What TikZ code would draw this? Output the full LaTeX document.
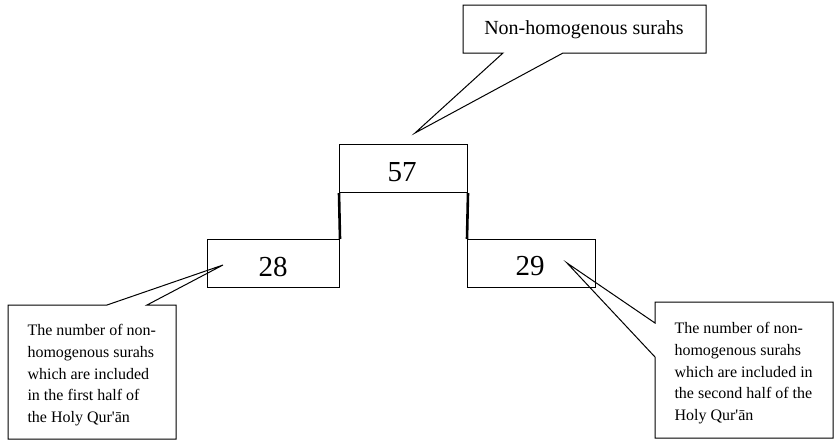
\documentclass[tikz,border=0pt]{standalone}
\usepackage{fontspec}
\setmainfont{Liberation Serif}
\begin{document}
\begin{tikzpicture}[x=1pt,y=-1pt,line width=1pt,
  callout/.style={draw,fill=white,line width=1pt,line join=miter},
  numbox/.style={draw,line width=1pt,anchor=north west,inner sep=0pt},
  num/.style={font=\fontsize{29}{34}\selectfont,inner sep=0pt},
  lab/.style={font=\fontsize{20}{24}\selectfont,inner sep=0pt},
  note/.style={font=\fontsize{16}{21.7}\selectfont,align=left,anchor=north west,inner sep=0pt},
  riser/.style={line width=2.6pt}]
\useasboundingbox (0,0) rectangle (834,440);
% callout tips
\coordinate (tipTop) at (415,133);
\coordinate (tipL) at (223,265);
\coordinate (tipR) at (567,263);
% callouts
\draw[callout] (463,5) -- (706,5) -- (706,53) -- (563,53) -- (tipTop) -- (503,53) -- (463,53) -- cycle;
\draw[callout] (8,305) -- (107,305) -- (tipL) -- (147,305) -- (176,305) -- (176,439) -- (8,439) -- cycle;
\draw[callout] (655,302) -- (833,302) -- (833,438) -- (655,438) -- (655,357) -- (tipR) -- (655,323) -- cycle;
\node[lab] (lTop) at (584,30) {Non-homogenous surahs};
\node[note] (lLeft) at (27,324) {The number of non-\\homogenous surahs\\which are included\\in the first half of\\the Holy Qur\textquotesingle ān};
\node[note] (lRight) at (674,322) {The number of non-\\homogenous surahs\\which are included in\\the second half of the\\Holy Qur\textquotesingle ān};
% boxes
\node[numbox,minimum width=128pt,minimum height=48pt] (b57) at (339,144) {};
\node[numbox,minimum width=132pt,minimum height=48pt] (b28) at (207,239) {};
\node[numbox,minimum width=128pt,minimum height=48pt] (b29) at (467,239) {};
\draw[riser] (b57.south west) -- (b28.north east);
\draw[riser] (b57.south east) -- (b29.north west);
\node[num] (t57) at (402,172) {57};
\node[num] (t28) at (273,266.5) {28};
\node[num] (t29) at (530,266.5) {29};
\end{tikzpicture}
\end{document}
